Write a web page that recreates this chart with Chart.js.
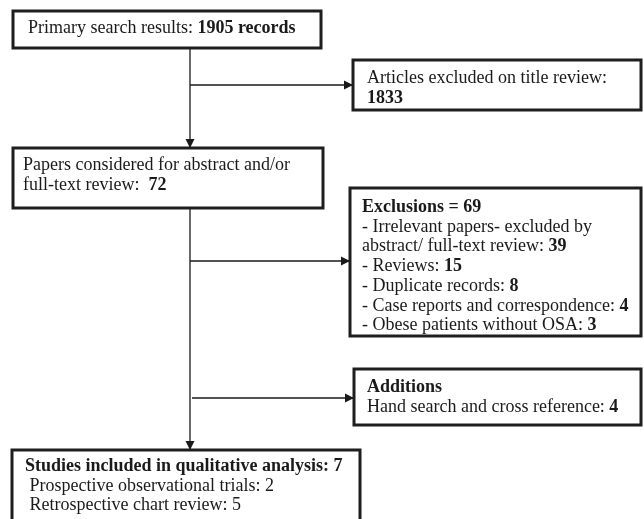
<!DOCTYPE html>
<html>
<head>
<meta charset="utf-8">
<script src="https://cdn.jsdelivr.net/npm/chart.js@4/dist/chart.umd.min.js"></script>
<style>
html,body{margin:0;padding:0;background:#fff;}
#c{display:block;}
</style>
</head>
<body>
<canvas id="c" width="644" height="519"></canvas>
<script>
// ---- Data: flow counts ----
const primaryRecords = 1905;
const excludedOnTitle = 1833;
const consideredForReview = 72;
const exclusionTotal = 69;
const exclusionCategories = ["Irrelevant papers- excluded by abstract/ full-text review", "Reviews", "Duplicate records", "Case reports and correspondence", "Obese patients without OSA"];
const exclusionCounts = [39, 15, 8, 4, 3];
const additionCategories = ["Hand search and cross reference"];
const additionCounts = [4];
const includedTotal = 7;
const includedCategories = ["Prospective observational trials", "Retrospective chart review"];
const includedCounts = [2, 5];

// ---- Box texts built from the data (segments: [text, bold]) ----
const boxTexts = [
  [[["Primary search results: ", false], [primaryRecords + " records", true]]],
  [[["Articles excluded on title review:", false]], [[String(excludedOnTitle), true]]],
  [[["Papers considered for abstract and/or", false]], [["full-text review:  ", false], [String(consideredForReview), true]]],
  [[["Exclusions = " + exclusionTotal, true]],
   [["- Irrelevant papers- excluded by", false]],
   [["abstract/ full-text review: ", false], [String(exclusionCounts[0]), true]],
   [["- " + exclusionCategories[1] + ": ", false], [String(exclusionCounts[1]), true]],
   [["- " + exclusionCategories[2] + ": ", false], [String(exclusionCounts[2]), true]],
   [["- " + exclusionCategories[3] + ": ", false], [String(exclusionCounts[3]), true]],
   [["- " + exclusionCategories[4] + ": ", false], [String(exclusionCounts[4]), true]]],
  [[["Additions", true]], [[additionCategories[0] + ": ", false], [String(additionCounts[0]), true]]],
  [[["Studies included in qualitative analysis: " + includedTotal, true]],
   [[" " + includedCategories[0] + ": " + includedCounts[0], false]],
   [[" " + includedCategories[1] + ": " + includedCounts[1], false]]]
];

// ---- Layout (in scale units) ----
const boxes = [
  {x0: 13, y0: 11, x1: 321, y1: 48, tx: 28, ty: 33, lh: 20},
  {x0: 353, y0: 60, x1: 641, y1: 110, tx: 367, ty: 83, lh: 20},
  {x0: 13, y0: 148, x1: 323, y1: 208, tx: 23, ty: 170, lh: 20},
  {x0: 350, y0: 188, x1: 641, y1: 336, tx: 362, ty: 212, lh: 19.7},
  {x0: 354, y0: 369, x1: 641, y1: 425, tx: 367, ty: 392, lh: 20},
  {x0: 12, y0: 450, x1: 360, y1: 530, tx: 25, ty: 471, lh: 19.5}
];
const connectors = [
  {pts: [[190, 48], [190, 148]], arrow: true},
  {pts: [[190, 208], [190, 450]], arrow: true},
  {pts: [[190, 85], [353, 85]], arrow: true},
  {pts: [[190, 261], [350, 261]], arrow: true},
  {pts: [[192, 398], [354, 398]], arrow: true}
];

const FONT = '"Liberation Serif", "DejaVu Serif", serif';
const FS = 18;

const flowPlugin = {
  id: 'flow',
  afterDraw(chart) {
    const ctx = chart.ctx;
    const xs = chart.scales.x, ys = chart.scales.y;
    const X = v => xs.getPixelForValue(v), Y = v => ys.getPixelForValue(v);
    ctx.save();
    // connectors
    ctx.strokeStyle = '#1a1a1a';
    ctx.fillStyle = '#1a1a1a';
    ctx.lineWidth = 1.3;
    connectors.forEach(c => {
      const p = c.pts.map(q => [X(q[0]), Y(q[1])]);
      ctx.beginPath();
      ctx.moveTo(p[0][0], p[0][1]);
      for (let i = 1; i < p.length; i++) ctx.lineTo(p[i][0], p[i][1]);
      ctx.stroke();
      if (c.arrow) {
        const a = p[p.length - 2], b = p[p.length - 1];
        const ang = Math.atan2(b[1] - a[1], b[0] - a[0]);
        const L = 9, W = 4.5;
        ctx.beginPath();
        ctx.moveTo(b[0], b[1]);
        ctx.lineTo(b[0] - L * Math.cos(ang) + W * Math.sin(ang), b[1] - L * Math.sin(ang) - W * Math.cos(ang));
        ctx.lineTo(b[0] - L * Math.cos(ang) - W * Math.sin(ang), b[1] - L * Math.sin(ang) + W * Math.cos(ang));
        ctx.closePath();
        ctx.fill();
      }
    });
    // boxes
    boxes.forEach((bx, i) => {
      const x0 = X(bx.x0), y0 = Y(bx.y0), x1 = X(bx.x1), y1 = Y(bx.y1);
      ctx.fillStyle = '#ffffff';
      ctx.fillRect(x0, y0, x1 - x0, y1 - y0);
      ctx.strokeStyle = '#1e1e1e';
      ctx.lineWidth = 3;
      ctx.strokeRect(x0, y0, x1 - x0, y1 - y0);
      ctx.fillStyle = '#1a1a1a';
      ctx.textBaseline = 'alphabetic';
      ctx.textAlign = 'left';
      boxTexts[i].forEach((line, li) => {
        let cx = X(bx.tx);
        const cy = Y(bx.ty + li * bx.lh);
        line.forEach(seg => {
          ctx.font = (seg[1] ? 'bold ' : '') + FS + 'px ' + FONT;
          ctx.fillText(seg[0], cx, cy);
          cx += ctx.measureText(seg[0]).width;
        });
      });
    });
    ctx.restore();
  }
};

new Chart(document.getElementById('c'), {
  type: 'scatter',
  data: { datasets: [{ data: [], pointRadius: 0 }] },
  options: {
    responsive: false,
    animation: false,
    layout: { padding: 0 },
    plugins: { legend: { display: false }, tooltip: { enabled: false } },
    scales: {
      x: { type: 'linear', min: 0, max: 644, display: false },
      y: { type: 'linear', min: 0, max: 519, reverse: true, display: false }
    }
  },
  plugins: [flowPlugin]
});
</script>
</body>
</html>
